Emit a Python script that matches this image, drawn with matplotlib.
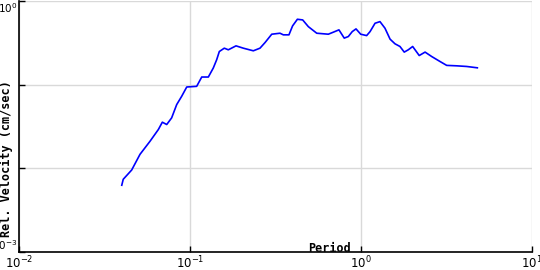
import matplotlib
matplotlib.use("Agg")
import matplotlib.pyplot as plt

# Period (s) and relative velocity (cm/sec)
period = [0.0399, 0.0407, 0.0456, 0.0510, 0.0584, 0.0653, 0.0689, 0.0731,
          0.0781, 0.0836, 0.0894, 0.0957, 0.1094, 0.1171, 0.128, 0.1368,
          0.1432, 0.1484, 0.1587, 0.1675, 0.1858, 0.205, 0.2346, 0.2566,
          0.2748, 0.3006, 0.3359, 0.3515, 0.379, 0.398, 0.4246, 0.456,
          0.492, 0.551, 0.644, 0.689, 0.743, 0.798, 0.843, 0.889, 0.935,
          0.996, 1.079, 1.13, 1.208, 1.291, 1.381, 1.479, 1.58, 1.69,
          1.79, 1.89, 2.005, 2.19, 2.37, 2.59, 2.90, 3.17, 3.62, 4.15, 4.79]
velocity = [0.00628, 0.0074, 0.00955, 0.0147, 0.0211, 0.0291, 0.0356, 0.0334,
            0.0401, 0.0578, 0.0726, 0.0938, 0.0955, 0.1234, 0.1234, 0.158,
            0.1985, 0.249, 0.273, 0.261, 0.291, 0.273, 0.254, 0.273,
            0.319, 0.401, 0.412, 0.394, 0.394, 0.504, 0.605, 0.594,
            0.494, 0.412, 0.401, 0.424, 0.452, 0.360, 0.376, 0.431, 0.464,
            0.401, 0.386, 0.431, 0.542, 0.567, 0.473, 0.350, 0.308, 0.286,
            0.245, 0.261, 0.286, 0.223, 0.245, 0.217, 0.189, 0.170, 0.168,
            0.165, 0.159]

xticks = [1e-2, 1e-1, 1e0, 1e1]
xtick_labels = ["$10^{-2}$", "$10^{-1}$", "$10^{0}$", "$10^{1}$"]
yticks = [1e-3, 1e-2, 1e-1, 1e0]
ytick_labels = ["$10^{-3}$", "", "", "$10^{0}$"]

MONO = "DejaVu Sans Mono"

fig = plt.figure(figsize=(5.4, 2.7), dpi=100)
ax = fig.add_axes([19 / 540, 18 / 270, 513 / 540, 251 / 270])

ax.plot(period, velocity, color="#0000ff", linewidth=1.2)

ax.set_xscale("log")
ax.set_yscale("log")
ax.set_xlim(1e-2, 1e1)
ax.set_ylim(1e-3, 1e0)

ax.set_xticks(xticks)
ax.set_xticklabels(xtick_labels, fontsize=8.5)
ax.set_yticks(yticks)
ax.set_yticklabels(ytick_labels, fontsize=7.5)
ax.minorticks_off()
ax.tick_params(direction="in", length=4, width=1, pad=2)
ax.tick_params(axis="y", pad=1)
ylabs = ax.get_yticklabels()
ylabs[0].set_va("bottom")
ylabs[-1].set_va("top")

ax.grid(True, color="#d9d9d9", linewidth=1)
ax.set_axisbelow(True)
for side in ("top", "right"):
    ax.spines[side].set_visible(False)
for side in ("left", "bottom"):
    ax.spines[side].set_linewidth(1.2)

ax.set_xlabel("Period", fontsize=8.5, fontweight="bold", family=MONO)
ax.xaxis.set_label_coords(0.606, 0.04)
ax.set_ylabel("Rel. Velocity (cm/sec)", fontsize=8.5, fontweight="bold",
              family=MONO)
ax.yaxis.set_label_coords(-0.012, 0.374)

fig.savefig("out.png", dpi=100)
